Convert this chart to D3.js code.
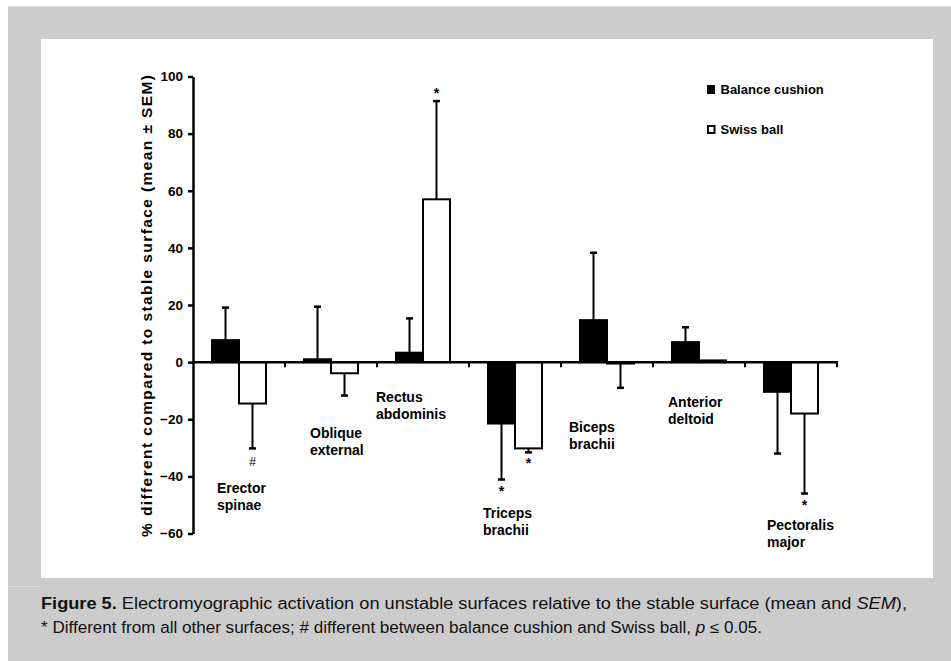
<!DOCTYPE html>
<html><head><meta charset="utf-8">
<script src="https://cdn.jsdelivr.net/npm/d3@7"></script>
<style>body{margin:0;background:#fff}svg{display:block}</style>
</head><body><svg id="c" width="951" height="661"></svg>
<script>
const categories = ["Erector spinae","Oblique external","Rectus abdominis","Triceps brachii","Biceps brachii","Anterior deltoid","Pectoralis major"];
const series = ["Balance cushion","Swiss ball"];
const balanceCushion    = [7.7, 1.0, 3.3, -21.5, 14.7, 7.0, -10.4];
const balanceCushionSEM = [11.4, 18.4, 12.0, 19.6, 23.6, 5.2, 21.6];
const swissBall         = [-14.5, -3.9, 57.0, -30.2, -0.5, 0.6, -18.0];
const swissBallSEM      = [15.7, 7.8, 34.4, 1.4, 8.5, 0, 28.0];
const yTicks = [-60,-40,-20,0,20,40,60,80,100];
const significance = [
  {cat:"Erector spinae", series:"Swiss ball", mark:"#"},
  {cat:"Rectus abdominis", series:"Swiss ball", mark:"*"},
  {cat:"Triceps brachii", series:"Balance cushion", mark:"*"},
  {cat:"Triceps brachii", series:"Swiss ball", mark:"*"},
  {cat:"Pectoralis major", series:"Swiss ball", mark:"*"}
];
const yTitle = "% different compared to stable surface (mean \u00b1 SEM)";
// label layout (px offsets: from band start, baseline below zero line)
const labelLayout = [[24,131],[25,76],[-1,40],[14,156],[8,70],[15,45],[22,168]];

const rows = [];
categories.forEach((c,i)=>{
  rows.push({cat:c, series:series[0], v:balanceCushion[i], e:balanceCushionSEM[i]});
  rows.push({cat:c, series:series[1], v:swissBall[i], e:swissBallSEM[i]});
});

const svg = d3.select("#c");
svg.append("rect").attr("x",0).attr("y",0).attr("width",951).attr("height",661).attr("fill","#fff");
svg.append("rect").attr("x",8).attr("y",6).attr("width",943).attr("height",655).attr("fill","#cccccc");
svg.append("line").attr("x1",8).attr("x2",951).attr("y1",6.5).attr("y2",6.5).attr("stroke","#dedede");
svg.append("rect").attr("x",41).attr("y",39).attr("width",892).attr("height",539).attr("fill","#fff");
svg.append("line").attr("x1",8).attr("x2",41).attr("y1",586.5).attr("y2",586.5).attr("stroke","#dedede");

const y = d3.scaleLinear().domain([-60,100]).range([533.5,76.5]);
const x = d3.scaleBand().domain(categories).range([193,837]).padding(0);
const x1 = d3.scaleBand().domain(series).range([0,x.bandwidth()]).paddingInner(0).paddingOuter(0.704);

const font = "'Liberation Sans', Arial, Helvetica, sans-serif";

// bars
const g = svg.append("g");
g.selectAll("rect.bar").data(rows).join("rect")
  .attr("class","bar")
  .attr("x", d=>x(d.cat)+x1(d.series))
  .attr("width", x1.bandwidth())
  .attr("y", d=>y(Math.max(0,d.v)))
  .attr("height", d=>Math.abs(y(d.v)-y(0)))
  .attr("fill", d=>d.series===series[0]?"#000":"#fff")
  .attr("stroke","#000").attr("stroke-width",2);

// error bars (one-sided, away from zero)
const errEnd = d=> d.v + (d.v>=0?1:-1)*d.e;
const eb = g.selectAll("g.err").data(rows.filter(d=>d.e>0)).join("g").attr("class","err");
eb.append("line")
  .attr("x1", d=>x(d.cat)+x1(d.series)+x1.bandwidth()/2)
  .attr("x2", d=>x(d.cat)+x1(d.series)+x1.bandwidth()/2)
  .attr("y1", d=>y(d.v)).attr("y2", d=>y(errEnd(d)))
  .attr("stroke","#000").attr("stroke-width",2);
eb.append("line")
  .attr("x1", d=>x(d.cat)+x1(d.series)+x1.bandwidth()/2-3.5)
  .attr("x2", d=>x(d.cat)+x1(d.series)+x1.bandwidth()/2+3.5)
  .attr("y1", d=>y(errEnd(d))).attr("y2", d=>y(errEnd(d)))
  .attr("stroke","#000").attr("stroke-width",2.5);

// significance marks
g.selectAll("text.sig").data(significance).join("text")
  .attr("class","sig")
  .attr("x", d=>x(d.cat)+x1(d.series)+x1.bandwidth()/2)
  .attr("y", d=>{
    const r = rows.find(q=>q.cat===d.cat && q.series===d.series);
    const e = errEnd(r);
    return r.v>=0 ? y(e)-3 : y(e)+ (d.mark==="#"?18:16);
  })
  .attr("text-anchor","middle")
  .attr("font-family",font)
  .attr("font-size", d=>d.mark==="#"?12:14)
  .attr("font-weight", d=>d.mark==="#"?"normal":"bold")
  .text(d=>d.mark);

// y axis
const yAxis = svg.append("g").attr("transform","translate(193,0)")
  .call(d3.axisLeft(y).tickValues(yTicks).tickSize(5).tickSizeOuter(0).tickPadding(5).tickFormat(d3.format("d")));
yAxis.select(".domain").attr("stroke","#000").attr("stroke-width",2.5);
yAxis.selectAll(".tick line").attr("stroke","#000").attr("stroke-width",2.5);
yAxis.selectAll(".tick text").attr("font-family",font).attr("font-size",13.5).attr("font-weight","bold").attr("fill","#000");

// x axis at zero with boundary ticks
const bounds = categories.map(c=>x(c)+x.bandwidth());
svg.append("line").attr("x1",192).attr("x2",x.range()[1]+1).attr("y1",y(0)).attr("y2",y(0))
  .attr("stroke","#000").attr("stroke-width",2.5);
svg.selectAll("line.xt").data(bounds).join("line").attr("class","xt")
  .attr("x1",d=>d).attr("x2",d=>d).attr("y1",y(0)).attr("y2",y(0)+5)
  .attr("stroke","#000").attr("stroke-width",2);

// category labels
categories.forEach((c,i)=>{
  const parts = c.split(" ");
  const t = svg.append("text").attr("font-family",font).attr("font-size",14).attr("font-weight","bold").attr("fill","#000");
  parts.forEach((p,j)=>{
    t.append("tspan").attr("x", x(c)+labelLayout[i][0]).attr("y", y(0)+labelLayout[i][1]+j*17).text(p);
  });
});

// y title
svg.append("text")
  .attr("transform","translate(152,306) rotate(-90)")
  .attr("text-anchor","middle")
  .attr("font-family",font).attr("font-size",15.5).attr("font-weight","bold")
  .attr("textLength",462).attr("lengthAdjust","spacing")
  .text(yTitle);

// legend
const lg = svg.append("g");
series.forEach((s,i)=>{
  const yy = 85 + i*40;
  lg.append("rect").attr("x", i===0?707:708).attr("y", i===0?yy:yy+1)
    .attr("width", i===0?8:6.5).attr("height", i===0?9:7)
    .attr("fill", i===0?"#000":"#fff").attr("stroke","#000").attr("stroke-width", i===0?0:2);
  lg.append("text").attr("x",720.5).attr("y",yy+9)
    .attr("font-family",font).attr("font-size",13).attr("font-weight","bold").text(s);
});

// caption
const cfont = "'Liberation Sans Narrow', 'Liberation Sans', Arial, sans-serif";
const c1 = svg.append("text").attr("x",41).attr("y",609).attr("font-family",cfont).attr("font-size",16)
  .attr("fill","#111").attr("textLength",866).attr("lengthAdjust","spacingAndGlyphs");
c1.append("tspan").attr("font-weight","bold").text("Figure 5.");
c1.append("tspan").text(" Electromyographic activation on unstable surfaces relative to the stable surface (mean and ");
c1.append("tspan").attr("font-style","italic").text("SEM");
c1.append("tspan").text("),");
const c2 = svg.append("text").attr("x",41).attr("y",633).attr("font-family",cfont).attr("font-size",16)
  .attr("fill","#111").attr("textLength",721).attr("lengthAdjust","spacingAndGlyphs");
c2.append("tspan").text("* Different from all other surfaces; # different between balance cushion and Swiss ball, ");
c2.append("tspan").attr("font-style","italic").text("p");
c2.append("tspan").text(" \u2264 0.05.");
</script></body></html>
